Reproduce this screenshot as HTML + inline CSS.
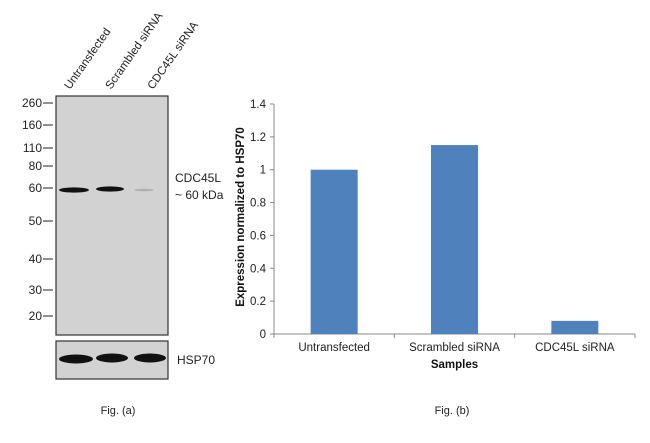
<!DOCTYPE html>
<html><head><meta charset="utf-8"><style>
body{margin:0;background:#fff;width:650px;height:438px;overflow:hidden;font-family:"Liberation Sans",Arial,sans-serif}
svg text{font-family:"Liberation Sans",Arial,sans-serif}
</style></head><body>
<svg width="650" height="438">
<g>
  <rect x="56" y="96" width="112" height="239" fill="#d2d2d2" stroke="#333" stroke-width="1.2"/>
  <rect x="56" y="341" width="112" height="38" fill="#d2d2d2" stroke="#333" stroke-width="1.2"/>
  <ellipse cx="74" cy="190" rx="15" ry="2.6" fill="#111"/>
  <ellipse cx="110" cy="189" rx="14" ry="2.6" fill="#111"/>
  <ellipse cx="144" cy="190" rx="10" ry="1.3" fill="#b0b0b0"/>
  <ellipse cx="76" cy="359" rx="17" ry="4.5" fill="#111"/>
  <ellipse cx="112" cy="358" rx="16" ry="4.5" fill="#111"/>
  <ellipse cx="150" cy="358" rx="16" ry="4.5" fill="#111"/>
  <g font-size="12" fill="#222" text-anchor="end">
    <text x="42" y="107">260</text><line x1="43" y1="103" x2="53" y2="103" stroke="#222"/>
    <text x="42" y="129">160</text><line x1="43" y1="125" x2="53" y2="125" stroke="#222"/>
    <text x="42" y="152">110</text><line x1="43" y1="148" x2="53" y2="148" stroke="#222"/>
    <text x="42" y="170">80</text><line x1="43" y1="166" x2="53" y2="166" stroke="#222"/>
    <text x="42" y="192">60</text><line x1="43" y1="188" x2="53" y2="188" stroke="#222"/>
    <text x="42" y="225">50</text><line x1="43" y1="221" x2="53" y2="221" stroke="#222"/>
    <text x="42" y="263">40</text><line x1="43" y1="259" x2="53" y2="259" stroke="#222"/>
    <text x="42" y="294">30</text><line x1="43" y1="290" x2="53" y2="290" stroke="#222"/>
    <text x="42" y="320">20</text><line x1="43" y1="316" x2="53" y2="316" stroke="#222"/>
  </g>
  <g font-size="11.5" fill="#222">
    <text transform="translate(70,90) rotate(-55)">Untransfected</text>
    <text transform="translate(111,90) rotate(-55)">Scrambled siRNA</text>
    <text transform="translate(153,90) rotate(-55)">CDC45L siRNA</text>
  </g>
  <text x="175" y="182" font-size="12" fill="#222">CDC45L</text>
  <text x="175" y="199" font-size="12" fill="#222">~ 60 kDa</text>
  <text x="177" y="364" font-size="12" fill="#222">HSP70</text>
  <text x="118" y="414" font-size="11" fill="#222" text-anchor="middle">Fig. (a)</text>
</g>
<g id="chart"></g>
<text x="452" y="414" font-size="11" fill="#222" text-anchor="middle">Fig. (b)</text>
</svg>
<script>
const categories=["Untransfected","Scrambled siRNA","CDC45L siRNA"];
const values=[1.0,1.15,0.08];
const yTicks=[0,0.2,0.4,0.6,0.8,1,1.2,1.4];
const NS="http://www.w3.org/2000/svg";
const g=document.getElementById('chart');
const x0=274,x1=635,y0=334,y1=104,yMax=1.4;
const yS=v=>y0-(v/yMax)*(y0-y1);
const cw=(x1-x0)/categories.length;
function mk(t,a,txt){const e=document.createElementNS(NS,t);for(const k in a)e.setAttribute(k,a[k]);if(txt!=null)e.textContent=txt;g.appendChild(e);return e;}
let e=mk('line',{x1:x0,y1:y1,x2:x0,y2:y0,stroke:'#888'});


e=mk('line',{x1:x0,y1:y0,x2:x1,y2:y0,stroke:'#888'});


yTicks.forEach(t=>{
  const y=yS(t);
  let l=mk('line',{x1:x0-4,y1:y,x2:x0,y2:y,stroke:'#888'});
  
  
  let tx=mk('text',{x:x0-8,y:y+4,'font-size':11.5,'text-anchor':'end',fill:'#222'},String(t));
  
  
});
for(let i=0;i<=categories.length;i++){
  let l=mk('line',{x1:x0+i*cw,y1:y0,x2:x0+i*cw,y2:y0+4,stroke:'#888'});
  
  
}
categories.forEach((c,i)=>{
  const cx=x0+cw*(i+0.5),bw=47;
  let r=mk('rect',{x:cx-bw/2,y:yS(values[i]),width:bw,height:y0-yS(values[i]),fill:'#4f81bd'});
  
  
  let t=mk('text',{x:cx,y:351,'font-size':11.5,'text-anchor':'middle',fill:'#222'},c);
  
  
});
e=mk('text',{x:(x0+x1)/2,y:368,'font-size':11.5,'font-weight':'bold','text-anchor':'middle',fill:'#111'},'Samples');


e=mk('text',{transform:'translate(244,217) rotate(-90)','font-size':11.5,'font-weight':'bold','text-anchor':'middle',fill:'#111'},'Expression normalized to HSP70');


</script>
</body></html>
